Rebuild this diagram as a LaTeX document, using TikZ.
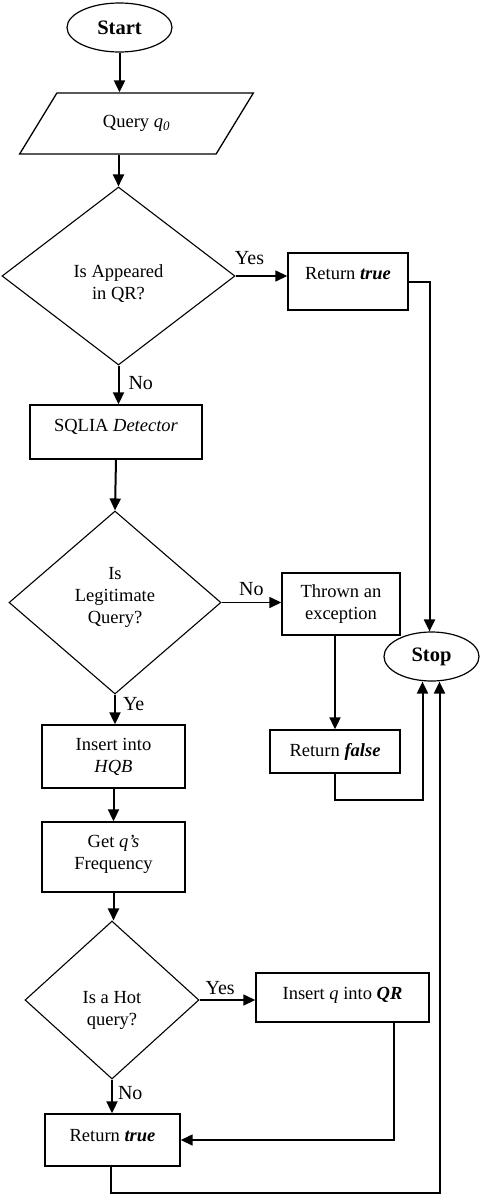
\documentclass[tikz,border=0pt]{standalone}
\usepackage{fontspec}
\setmainfont{Liberation Serif}
\usetikzlibrary{shapes.geometric,arrows.meta}
\begin{document}
\begin{tikzpicture}[x=1pt,y=-1pt,
  txt/.style={font=\fontsize{18.5}{22}\selectfont},
  box/.style={txt, draw, line width=1.4pt, rectangle, inner sep=0pt, align=center},
  dec/.style={txt, draw, line width=1.1pt, diamond, inner sep=0pt, align=center},
  term/.style={draw, line width=1.2pt, ellipse, inner sep=0pt, font=\fontsize{20.5}{24}\selectfont\bfseries},
  io/.style={txt, draw, line width=1.3pt, trapezium, trapezium left angle=46, trapezium right angle=134, trapezium stretches=true, inner sep=0pt},
  tip/.style={-{Triangle[length=12pt,width=11pt]}},
  flow/.style={line width=2pt, tip},
  side/.style={line width=1.5pt, tip},
  lab/.style={font=\fontsize{20}{24}\selectfont, inner sep=1pt}]
\useasboundingbox (0,0) rectangle (481,1194);

\node[term, minimum width=105pt, minimum height=49pt] (start) at (119.5,27.5) {Start};
\node[io, minimum width=235pt, minimum height=61pt] (query) at (136.5,123.5) {Query {\itshape q\textsubscript{0}}};
\node[dec, minimum width=233pt, minimum height=178pt] (d1) at (118.5,276) {\rule{0pt}{28pt}Is Appeared\\in QR?};
\node[box, minimum width=120pt, minimum height=57pt] (r1) at (348,281.5) {Return \textbf{\textit{true}}\rule[-17pt]{0pt}{0pt}};
\node[box, minimum width=172pt, minimum height=54pt] (sqlia) at (116,432) {SQLIA \textit{Detector}\rule[-14pt]{0pt}{0pt}};
\node[dec, minimum width=212pt, minimum height=183pt] (d2) at (115,602.5) {Is\\Legitimate\\Query?\rule[-15pt]{0pt}{0pt}};
\node[box, minimum width=118pt, minimum height=62pt] (thrown) at (341,604) {Thrown an\\exception};
\node[box, minimum width=130pt, minimum height=43pt] (rf) at (335,751.5) {Return \textbf{\textit{false}}};
\node[term, minimum width=95pt, minimum height=49pt] (stop) at (431.5,656.5) {Stop};
\node[box, minimum width=143pt, minimum height=63pt] (ins) at (113.5,756.5) {Insert into\\\textit{HQB}};
\node[box, minimum width=143pt, minimum height=70pt] (get) at (113.5,857) {Get \textit{q’s}\\Frequency\rule[-9pt]{0pt}{0pt}};
\node[dec, minimum width=174pt, minimum height=158pt] (d3) at (112,1000) {\rule{0pt}{32pt}Is a Hot\\query?};
\node[box, minimum width=173pt, minimum height=49pt] (iq) at (342.5,997.5) {Insert \textit{q} into \textbf{\textit{QR}}\rule[-9pt]{0pt}{0pt}};
\node[box, minimum width=135pt, minimum height=52pt] (rt2) at (112.5,1140) {Return \textbf{\textit{true}}\rule[-10pt]{0pt}{0pt}};

\draw[flow] (start.south) -- (start.south |- query.north);
\draw[flow] (d1.north |- query.south) -- (d1.north);
\draw[side] (d1.east) -- (d1.east -| r1.west) node[lab, above=10pt, pos=0.27] {Yes};
\draw[flow] (r1.east) -| ([xshift=-2pt]stop.north);
\draw[flow] (d1.south) -- (d1.south |- sqlia.north) node[lab, right=8pt, pos=0.45] {No};
\draw[flow] (sqlia.south) -- (d2.north);
\draw[side] (d2.east) -- (d2.east -| thrown.west) node[lab, above=5pt, pos=0.5] {No};
\draw[flow] (rf.north |- thrown.south) -- (rf.north);
\draw[flow] (rf.south) -- ++(0,26) -| ([xshift=-9pt]stop.south);
\draw[flow] (d2.south) -- (d2.south |- ins.north) node[lab, right=6pt, pos=0.32] {Ye};
\draw[flow] (ins.south) -- (get.north);
\draw[flow] (get.south) -- (get.south |- d3.north);
\draw[side] (d3.east) -- (d3.east -| iq.west) node[lab, above=4pt, pos=0.37] {Yes};
\draw[side] ([xshift=51.5pt]iq.south) |- (rt2.east);
\draw[flow] (d3.south) -- (d3.south |- rt2.north) node[lab, right=4pt, pos=0.4] {No};
\draw[flow] ([xshift=-2pt]rt2.south) -- ++(0,26.5) -| ([xshift=8pt]stop.south);
\end{tikzpicture}
\end{document}
